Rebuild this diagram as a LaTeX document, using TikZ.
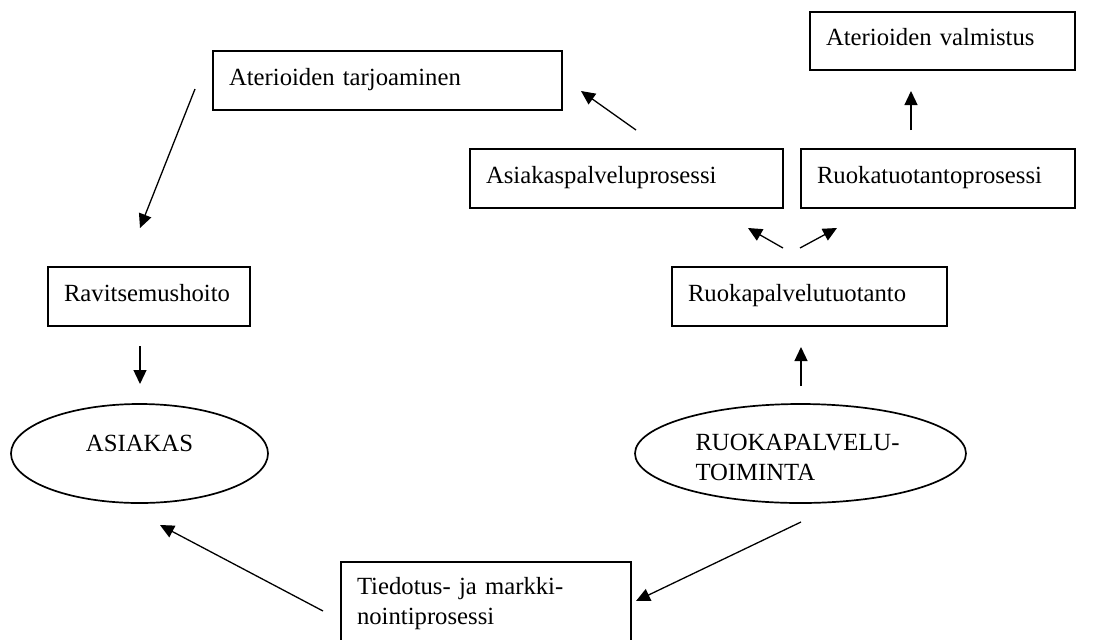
\documentclass[tikz,border=0pt]{standalone}
\usepackage{fontspec}
\setmainfont{Liberation Serif}
\usetikzlibrary{arrows.meta,shapes.geometric}
\hyphenpenalty=10000

\begin{document}
\begin{tikzpicture}[
			x=0.5pt, y=-0.5pt,
			every node/.style={font=\fontsize{12.35}{15}\selectfont, outer sep=0pt},
			boxed/.style={rectangle, draw, line width=0.85pt, inner xsep=8pt, align=left},
			single line/.style={boxed, inner ysep=0pt, minimum height=29.5pt, text height=9.5pt, text depth=5pt},
			oval node/.style={ellipse, draw, line width=0.85pt, inner sep=0pt, minimum width=#1, minimum height=49.5pt},
			flow arrow/.style={-{Triangle[length=7pt, width=6.5pt]}, line width=0.65pt}
			]
			
			\useasboundingbox (0,0) rectangle (1115,639);
			
			\node[single line, text width=158.5pt] (tarjoaminen) at (387.5,80.5) {Aterioiden tarjoaminen};
			\node[single line, text width=116.5pt, minimum height=29pt] (valmistus) at (942.5,41) {Aterioiden valmistus};
			\node[single line, text width=140.5pt] (asiakaspalvelu) at (626.5,178.5) {Asiakaspalveluprosessi};
			\node[single line, text width=121pt] (ruokatuotanto) at (938,178.5) {Ruokatuotantoprosessi};
			\node[single line, text width=121.5pt] (tuotanto) at (809.5,296.5) {Ruokapalvelutuotanto};
			\node[single line, text width=85pt] (ravitsemus) at (149,296.5) {Ravitsemushoito};
			\node[oval node=128.5pt, text height=8pt, text depth=10.5pt] (asiakas) at (139.5,453.5) {ASIAKAS};
			\node[oval node=165.5pt, align=left, text width=105pt, text height=8.5pt, text depth=12pt] (toiminta) at (800.5,453.5) {RUOKAPALVELU-\\TOIMINTA};
			\node[boxed, text width=129pt, anchor=north west, inner ysep=6.5pt, text height=9.5pt] (tiedotus) at (341,562) {Tiedotus- ja markki-\\nointiprosessi};
			
			\draw[flow arrow] ([shift={(-18,8.5)}]tarjoaminen.west) -- ([shift={(-9,-39)}]ravitsemus.north);
			\draw[flow arrow] ([shift={(-9,20)}]ravitsemus.south) -- ([shift={(0.5,-20)}]asiakas.north);
			\draw[flow arrow] ([shift={(-18,49)}]tiedotus.north west) -- ([shift={(20.5,22)}]asiakas.south);
			\draw[flow arrow] ([shift={(0.5,19)}]toiminta.south) -- ([shift={(5,39)}]tiedotus.north east);
			\draw[flow arrow] ([shift={(0.5,-18)}]toiminta.north) -- ([shift={(-8.5,21)}]tuotanto.south);
			\draw[flow arrow] ([shift={(-26.5,-19)}]tuotanto.north) -- ([shift={(-35,20)}]asiakaspalvelu.south east);
			\draw[flow arrow] ([shift={(-9.5,-19)}]tuotanto.north) -- ([shift={(36,20)}]ruokatuotanto.south west);
			\draw[flow arrow] ([shift={(9.5,-19)}]asiakaspalvelu.north) -- ([shift={(19,-19)}]tarjoaminen.south east);
			\draw[flow arrow] ([shift={(-27,-19)}]ruokatuotanto.north) -- ([shift={(-31.5,21)}]valmistus.south);
		\end{tikzpicture}
\end{document}
